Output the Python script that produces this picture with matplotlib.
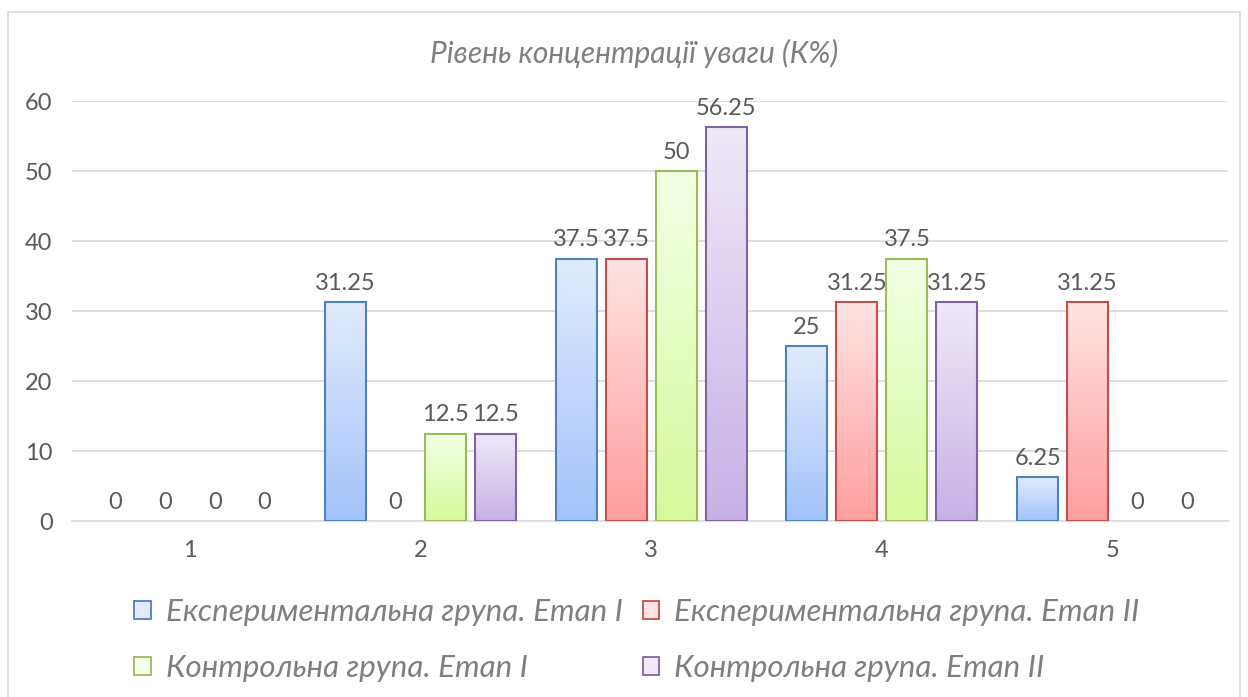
import matplotlib.pyplot as plt
import numpy as np
from matplotlib.colors import LinearSegmentedColormap
from matplotlib.patches import Rectangle


# рівень концентрації уваги, %
categories = [1, 2, 3, 4, 5]
exp_stage1 = [0, 31.25, 37.5, 25, 6.25]
exp_stage2 = [0, 0, 37.5, 31.25, 31.25]
ctrl_stage1 = [0, 12.5, 50, 37.5, 0]
ctrl_stage2 = [0, 12.5, 56.25, 31.25, 0]
labels = ["Експериментальна група. Етап І", "Експериментальна група. Етап ІІ",
          "Контрольна група. Етап І", "Контрольна група. Етап ІІ"]

# (edge, top of gradient, bottom of gradient)
styles = [("#4f81bd", "#e1ebfd", "#a3c3fb"),
          ("#c0504d", "#ffe3e3", "#ff9e9e"),
          ("#9bbb59", "#f4ffe6", "#d6fa9c"),
          ("#8064a2", "#efe9f8", "#c6b1e6")]

txt = "#595959"
plt.rcParams['font.family'] = ['Lato', 'DejaVu Sans']

fig = plt.figure(figsize=(12.48, 6.97), dpi=100)
fig.patches.append(Rectangle((8 / 1248, -0.01), 1232 / 1248, 1 - 12 / 697 + 0.01,
                             transform=fig.transFigure, fill=False,
                             edgecolor="#d9d9d9", linewidth=1.2))

ax = fig.add_axes([72 / 1248, 1 - 521 / 697, 1156 / 1248, 420 / 697])

x = np.array(categories, dtype=float)
step = 0.2165
width = 0.178
series = [exp_stage1, exp_stage2, ctrl_stage1, ctrl_stage2]
handles = []
for i, (vals, (edge, top, bottom)) in enumerate(zip(series, styles)):
    pos = x + (i - 1.5) * step
    bars = ax.bar(pos, vals, width, facecolor="none", edgecolor=edge,
                  linewidth=1.5, zorder=3, label=labels[i])
    cmap = LinearSegmentedColormap.from_list("g%d" % i, [bottom, top])
    grad = np.linspace(0, 1, 256).reshape(-1, 1)
    for b in bars:
        h = b.get_height()
        if h > 0:
            ax.imshow(grad, cmap=cmap, aspect="auto", origin="lower",
                      extent=(b.get_x(), b.get_x() + b.get_width(), 0, h),
                      zorder=2)
        else:
            b.set_visible(False)
    for p, v in zip(pos, vals):
        ax.annotate("%g" % v, (p, v), xytext=(0, 6), textcoords="offset points",
                    ha="center", va="bottom", fontsize=17, color=txt)
    handles.append(Rectangle((0, 0), 1, 1, facecolor=top, edgecolor=edge,
                             linewidth=1.3))

ax.set_xlim(0.49, 5.5)
ax.set_ylim(0, 60)
ax.set_yticks(range(0, 61, 10))
ax.set_xticks(categories)
ax.grid(axis="y", color="#d9d9d9", linewidth=1.2, zorder=0)
ax.set_axisbelow(True)
for s in ["top", "right", "left"]:
    ax.spines[s].set_visible(False)
ax.spines["bottom"].set_color("#d9d9d9")
ax.spines["bottom"].set_linewidth(1.2)
ax.tick_params(axis="both", length=0, labelsize=17, labelcolor=txt)
ax.tick_params(axis="y", pad=14)
ax.tick_params(axis="x", pad=14)

fig.text(634 / 1248, 1 - 53 / 697, "Рівень концентрації уваги (К%)",
         ha="center", va="center", fontsize=21.5, style="italic", color="#7f7f7f")

order = [0, 2, 1, 3]
fig.legend([handles[k] for k in order], [labels[k] for k in order],
           ncol=2, loc="center", bbox_to_anchor=(637 / 1248, 1 - 640 / 697),
           frameon=False, handlelength=0.52, handleheight=0.52,
           handletextpad=0.5, columnspacing=0.62, labelspacing=0.88,
           prop={"style": "italic", "size": 22.5}, labelcolor="#7f7f7f")

fig.savefig("out.png", dpi=100)
